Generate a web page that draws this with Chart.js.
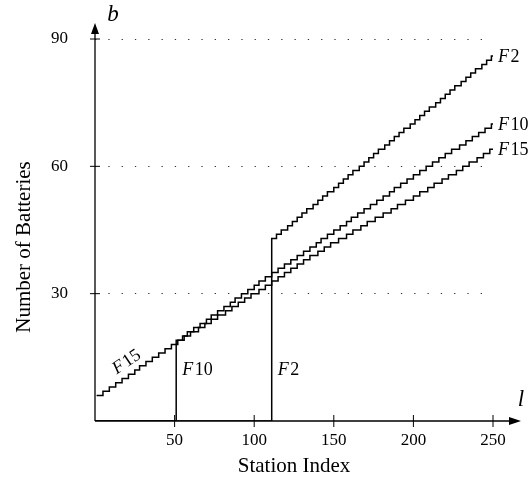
<!DOCTYPE html>
<html>
<head>
<meta charset="utf-8">
<title>Number of Batteries per Station</title>
<script src="https://cdn.jsdelivr.net/npm/chart.js@4/dist/chart.umd.min.js"></script>
<style>
  html, body { margin: 0; padding: 0; background: #fff; }
  canvas { display: block; }
</style>
</head>
<body>
<canvas id="batteryChart" width="529" height="479"></canvas>
<script>
// station index where the battery count steps up, and the count from there on
const stationsF2 = [0,111,114,117,121,124,127,130,133,137,140,143,146,150,153,156,159,162,166,169,172,175,178,182,185,188,191,194,198,201,204,207,210,214,217,220,223,226,230,233,236,239,243,246,249,250];
const batteriesF2 = [0,43,44,45,46,47,48,49,50,51,52,53,54,55,56,57,58,59,60,61,62,63,64,65,66,67,68,69,70,71,72,73,74,75,76,77,78,79,80,81,82,83,84,85,86,86];

const stationsF10 = [0,51,55,58,62,66,70,73,77,81,85,88,92,96,100,103,107,111,115,119,123,127,131,135,139,142,146,150,154,158,161,165,169,173,177,181,185,188,192,196,200,204,208,212,216,220,224,229,233,237,241,245,249,250];
const batteriesF10 = [0,19,20,21,22,23,24,25,26,27,28,29,30,31,32,33,34,35,36,37,38,39,40,41,42,43,44,45,46,47,48,49,50,51,52,53,54,55,56,57,58,59,60,61,62,63,64,65,66,67,68,69,70,70];

const stationsF15 = [1,5,9,13,17,21,25,28,32,36,40,44,48,52,56,60,65,69,73,77,82,86,90,94,98,103,107,111,115,119,123,127,131,135,140,144,148,153,158,162,167,171,176,181,186,190,195,200,204,209,213,218,222,227,231,235,240,244,248,250];
const batteriesF15 = [6,7,8,9,10,11,12,13,14,15,16,17,18,19,20,21,22,23,24,25,26,27,28,29,30,31,32,33,34,35,36,37,38,39,40,41,42,43,44,45,46,47,48,49,50,51,52,53,54,55,56,57,58,59,60,61,62,63,64,64];

const xTicks = [50, 100, 150, 200, 250];
const yTicks = [30, 60, 90];

const SERIF = "'Liberation Serif', 'Times New Roman', serif";

function makeSeries(name, stations, batteries) {
    return {
        label: name,
        data: stations.map((s, i) => ({ x: s, y: batteries[i] })),
        borderColor: '#000',
        borderWidth: 1.5,
        pointRadius: 0,
        stepped: 'before',
        fill: false
    };
}

// draws "F" in italic followed by the upright number
function drawName(ctx, name, x, y) {
    ctx.font = 'italic 18px ' + SERIF;
    ctx.fillText('F', x, y);
    const w = ctx.measureText('F').width + 1.5;
    ctx.font = '18px ' + SERIF;
    ctx.fillText(name.slice(1), x + w, y);
}

const axisPlugin = {
    id: 'axisArrows',
    afterDraw(chart) {
        const { ctx, chartArea: a, scales: { x, y } } = chart;
        const x0 = x.getPixelForValue(0);
        const y0 = y.getPixelForValue(0);
        ctx.save();
        ctx.strokeStyle = '#000';
        ctx.fillStyle = '#000';
        ctx.lineWidth = 1.3;

        // axes with arrow heads
        ctx.beginPath();
        ctx.moveTo(x0, y0);
        ctx.lineTo(x0, a.top - 8);
        ctx.moveTo(x0, y0);
        ctx.lineTo(a.right + 20, y0);
        ctx.stroke();
        ctx.beginPath();
        ctx.moveTo(x0, a.top - 16);
        ctx.lineTo(x0 - 4, a.top - 5);
        ctx.lineTo(x0 + 4, a.top - 5);
        ctx.closePath();
        ctx.fill();
        ctx.beginPath();
        ctx.moveTo(a.right + 28, y0);
        ctx.lineTo(a.right + 16, y0 - 4);
        ctx.lineTo(a.right + 16, y0 + 4);
        ctx.closePath();
        ctx.fill();

        // tick marks crossing the axes
        ctx.lineWidth = 1;
        ctx.beginPath();
        yTicks.forEach(v => {
            const p = y.getPixelForValue(v);
            ctx.moveTo(x0 - 5, p);
            ctx.lineTo(x0 + 5, p);
        });
        xTicks.forEach(v => {
            const p = x.getPixelForValue(v);
            ctx.moveTo(p, y0 - 6);
            ctx.lineTo(p, y0 + 6);
        });
        ctx.stroke();

        // axis letters
        ctx.font = 'italic 23px ' + SERIF;
        ctx.textAlign = 'center';
        ctx.textBaseline = 'middle';
        ctx.fillText('b', x0 + 18, a.top - 24);
        ctx.fillText('l', a.right + 28, y0 - 21);

        // y axis title
        ctx.save();
        ctx.translate(24, (a.top + a.bottom) / 2 + 17);
        ctx.rotate(-Math.PI / 2);
        ctx.font = '21px ' + SERIF;
        ctx.fillText('Number of Batteries', 0, 0);
        ctx.restore();

        // series names
        ctx.textAlign = 'left';
        const ends = [['F2', batteriesF2], ['F10', batteriesF10], ['F15', batteriesF15]];
        ends.forEach(([name, b]) => {
            drawName(ctx, name, x.getPixelForValue(250) + 5, y.getPixelForValue(b[b.length - 1]) + 1);
        });
        drawName(ctx, 'F10', x.getPixelForValue(stationsF10[1]) + 6, y.getPixelForValue(12));
        drawName(ctx, 'F2', x.getPixelForValue(stationsF2[1]) + 6, y.getPixelForValue(12));

        ctx.save();
        ctx.translate(x.getPixelForValue(12), y.getPixelForValue(9.5) - 10);
        ctx.rotate(-34 * Math.PI / 180);
        drawName(ctx, 'F15', 0, 0);
        ctx.restore();

        ctx.restore();
    }
};

const chart = new Chart(document.getElementById('batteryChart').getContext('2d'), {
    type: 'line',
    data: {
        datasets: [
            makeSeries('F2', stationsF2, batteriesF2),
            makeSeries('F10', stationsF10, batteriesF10),
            makeSeries('F15', stationsF15, batteriesF15)
        ]
    },
    options: {
        responsive: false,
        animation: false,
        layout: { padding: { left: 0, top: 39, right: 36, bottom: 0 } },
        plugins: {
            legend: { display: false },
            tooltip: { enabled: false }
        },
        scales: {
            x: {
                type: 'linear',
                min: 0,
                max: 250,
                afterFit: s => { s.height = 58; },
                grid: { display: false, drawTicks: false },
                border: { display: false },
                afterBuildTicks: s => { s.ticks = xTicks.map(v => ({ value: v })); },
                ticks: {
                    padding: 9,
                    color: '#000',
                    font: { family: SERIF, size: 17 }
                },
                title: {
                    display: true,
                    text: 'Station Index',
                    color: '#000',
                    font: { family: SERIF, size: 21 },
                    padding: 0
                }
            },
            y: {
                min: 0,
                max: 90,
                afterFit: s => { s.width = 95; },
                afterBuildTicks: s => { s.ticks = yTicks.map(v => ({ value: v })); },
                grid: { drawTicks: false, color: '#333', lineWidth: 1 },
                border: { display: false, dash: [1.3, 12] },
                ticks: {
                    padding: 27,
                    color: '#000',
                    font: { family: SERIF, size: 17 }
                }
            }
        }
    },
    plugins: [axisPlugin]
});
</script>
</body>
</html>
